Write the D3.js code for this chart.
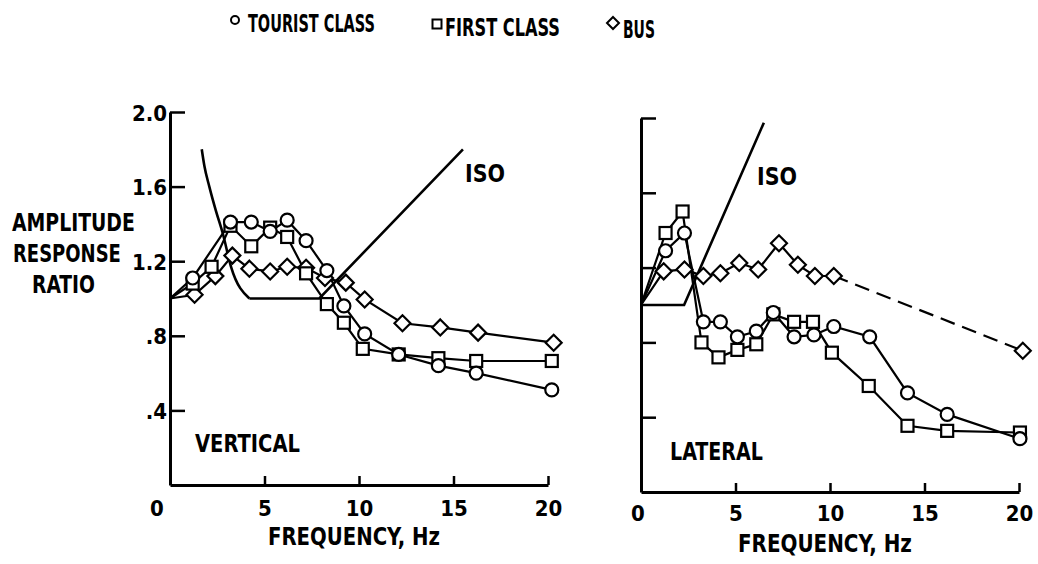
<!DOCTYPE html>
<html><head><meta charset="utf-8">
<script src="https://cdn.jsdelivr.net/npm/d3@7"></script>
<style>
body{margin:0;background:#fff}
text{font-family:"Liberation Sans Narrow","DejaVu Sans Condensed",sans-serif;font-weight:bold;fill:#000}
</style>
</head><body>
<svg id="c" width="1038" height="564"></svg>
<script>
// ---------- DATA ----------
const seriesNames = ["TOURIST CLASS", "FIRST CLASS", "BUS"];
const yTickValues = [0.4, 0.8, 1.2, 1.6, 2.0];
const yTickLabels = [".4", ".8", "1.2", "1.6", "2.0"];
const xTickValues = [5, 10, 15, 20];
const xTickLabels = ["5", "10", "15", "20"];

// Vertical panel
const vertTouristF = [0, 1.2, 3.2, 4.3, 5.3, 6.2, 7.2, 8.3, 9.2, 10.3, 12.1, 14.2, 16.2, 20.2];
const vertTouristV = [1.0, 1.11, 1.41, 1.41, 1.36, 1.42, 1.31, 1.15, 0.96, 0.81, 0.70, 0.64, 0.60, 0.51];
const vertFirstF = [0, 1.2, 2.2, 3.2, 4.3, 5.3, 6.2, 7.2, 8.3, 9.2, 10.2, 12.1, 14.2, 16.2, 20.2];
const vertFirstV = [1.0, 1.08, 1.17, 1.39, 1.28, 1.38, 1.33, 1.135, 0.97, 0.87, 0.73, 0.70, 0.68, 0.665, 0.665];
const vertBusF = [0, 1.3, 2.4, 3.3, 4.2, 5.3, 6.2, 7.2, 8.2, 9.3, 10.3, 12.3, 14.3, 16.3, 20.3];
const vertBusV = [1.0, 1.02, 1.12, 1.23, 1.16, 1.145, 1.17, 1.165, 1.11, 1.085, 0.995, 0.867, 0.845, 0.817, 0.763];
const vertIsoCurveF = [1.68, 1.82, 2.08, 2.43, 2.79, 3.23, 4.2];
const vertIsoCurveV = [1.80, 1.71, 1.60, 1.47, 1.35, 1.17, 1.0];
const vertIsoLineF = [4.2, 7.9, 15.5];
const vertIsoLineV = [1.0, 1.0, 1.8];

// Lateral panel
const latTouristF = [0, 1.3, 2.3, 3.3, 4.2, 5.1, 6.1, 7.0, 8.1, 9.15, 10.2, 12.1, 14.1, 16.2, 20.05];
const latTouristV = [1.0, 1.29, 1.385, 0.91, 0.91, 0.83, 0.86, 0.96, 0.83, 0.84, 0.885, 0.83, 0.53, 0.415, 0.285];
const latFirstF = [0, 1.3, 2.2, 3.2, 4.1, 5.1, 6.1, 7.0, 8.1, 9.1, 10.1, 12.05, 14.1, 16.2, 20.05];
const latFirstV = [1.0, 1.385, 1.50, 0.80, 0.72, 0.76, 0.79, 0.95, 0.91, 0.91, 0.745, 0.567, 0.354, 0.327, 0.318];
const latBusF = [0, 1.2, 2.3, 3.3, 4.2, 5.2, 6.2, 7.3, 8.3, 9.2, 10.2, 20.2];
const latBusV = [1.0, 1.18, 1.19, 1.155, 1.17, 1.225, 1.19, 1.33, 1.215, 1.155, 1.155, 0.755];
const latIsoF = [0, 2.28, 6.5];
const latIsoV = [1.0, 1.0, 1.975];

// ---------- DRAW ----------
const svg = d3.select("#c");
const zip = (f, v) => f.map((d, i) => [d, v[i]]);

// text squeezed horizontally with a transform so its real box matches the target width
function txt(x, y, s, size, width, anchor) {
  const t = svg.append("text").attr("x", 0).attr("y", 0).text(s)
    .style("font-size", size + "px").attr("text-anchor", anchor || "start");
  let k = 1;
  if (width) {
    const nat = t.node().getComputedTextLength();
    if (nat > 0) k = width / nat;
  }
  t.attr("transform", `translate(${x},${y}) scale(${k},1)`);
  return t;
}

function marker(g, type, cx, cy, s) {
  if (type === "circle") {
    g.append("circle").attr("cx", cx).attr("cy", cy).attr("r", s);
  } else if (type === "square") {
    g.append("rect").attr("x", cx - s).attr("y", cy - s).attr("width", 2 * s).attr("height", 2 * s);
  } else {
    g.append("path").attr("d", `M${cx},${cy - s}L${cx + s},${cy}L${cx},${cy + s}L${cx - s},${cy}Z`);
  }
}

function panel(opt) {
  const xs = d3.scaleLinear().domain([0, 20]).range([opt.x0, opt.x1]);
  const ys = d3.scaleLinear().domain([0, 2.0]).range([opt.y0, opt.y1]);
  const g = svg.append("g");

  // axes
  const ya = d3.axisLeft(ys).tickValues(yTickValues).tickSizeInner(-15).tickSizeOuter(0).tickPadding(5)
    .tickFormat((d, i) => opt.yLabels ? yTickLabels[i] : "");
  const yg = g.append("g").attr("transform", `translate(${opt.x0},0)`).call(ya);
  const xa = d3.axisBottom(xs).tickValues(xTickValues).tickSizeInner(-9).tickSizeOuter(0).tickPadding(0)
    .tickFormat((d, i) => xTickLabels[i]);
  const xg = g.append("g").attr("transform", `translate(0,${opt.y0})`).call(xa);
  [yg, xg].forEach(a => {
    a.attr("font-family", null).attr("font-size", null);
    a.select(".domain").attr("stroke", "#000").attr("stroke-width", 3);
    a.selectAll(".tick line").attr("stroke", "#000").attr("stroke-width", 2.5);
    a.selectAll(".tick text").style("font-size", "22px").attr("fill", "#000");
  });
  yg.selectAll(".tick text").attr("dy", null).attr("y", 8).attr("x", -3);
  xg.selectAll(".tick text").attr("dy", null).attr("y", opt.xLabelDy);
  txt(opt.zeroX, opt.zeroY, "0", 22, null, "middle");

  // ISO
  const line = d3.line().x(d => xs(d[0])).y(d => ys(d[1]));
  opt.iso.forEach(p => {
    g.append("path").attr("d", (p.curve ? line.curve(d3.curveMonotoneX) : line.curve(d3.curveLinear))(p.pts))
      .attr("fill", "none").attr("stroke", "#000").attr("stroke-width", 2.6);
  });
  line.curve(d3.curveLinear);

  // series
  opt.series.forEach(s => {
    const pts = s.pts;
    const solid = s.dashLast ? pts.slice(0, pts.length - 1) : pts;
    g.append("path").attr("d", line(solid)).attr("fill", "none").attr("stroke", "#000").attr("stroke-width", 2.2);
    if (s.dashLast) {
      g.append("path").attr("d", line(pts.slice(pts.length - 2))).attr("fill", "none")
        .attr("stroke", "#000").attr("stroke-width", 2.2).attr("stroke-dasharray", "15,8");
    }
  });
  opt.series.forEach(s => {
    const mg = g.append("g").attr("fill", "#fff").attr("stroke", "#000").attr("stroke-width", 2.2);
    s.pts.slice(1).forEach(d => marker(mg, s.type, xs(d[0]), ys(d[1]), s.size));
  });
}

panel({
  x0: 170, x1: 548, y0: 485, y1: 112, yLabels: true, xLabelDy: 31, zeroX: 157, zeroY: 516,
  iso: [{ curve: true, pts: zip(vertIsoCurveF, vertIsoCurveV) }, { curve: false, pts: zip(vertIsoLineF, vertIsoLineV) }],
  series: [
    { type: "diamond", size: 8, pts: zip(vertBusF, vertBusV) },
    { type: "square", size: 6, pts: zip(vertFirstF, vertFirstV) },
    { type: "circle", size: 6.5, pts: zip(vertTouristF, vertTouristV) }
  ]
});
panel({
  x0: 641, x1: 1019, y0: 492, y1: 118, yLabels: false, xLabelDy: 29, zeroX: 638, zeroY: 521,
  iso: [{ curve: false, pts: zip(latIsoF, latIsoV) }],
  series: [
    { type: "diamond", size: 8, pts: zip(latBusF, latBusV), dashLast: true },
    { type: "square", size: 6, pts: zip(latFirstF, latFirstV) },
    { type: "circle", size: 6.5, pts: zip(latTouristF, latTouristV) }
  ]
});

// texts
txt(12, 231, "AMPLITUDE", 24, 123);
txt(13, 262, "RESPONSE", 24, 108);
txt(32, 293, "RATIO", 24, 63);
txt(268, 545, "FREQUENCY, Hz", 24, 172);
txt(738, 552, "FREQUENCY, Hz", 24, 174);
txt(195, 452, "VERTICAL", 24, 105);
txt(670, 460, "LATERAL", 24, 93);
txt(465, 182, "ISO", 24, 40);
txt(757, 185, "ISO", 24, 40);

// legend
const lg = svg.append("g").attr("fill", "#fff").attr("stroke", "#000").attr("stroke-width", 2);
marker(lg, "circle", 235, 20, 4);
marker(lg, "square", 437, 24, 4.5);
marker(lg, "diamond", 613, 23, 6);
txt(248, 32, seriesNames[0], 24, 127);
txt(445, 36, seriesNames[1], 24, 115);
txt(623, 38, seriesNames[2], 24, 32);
</script>
</body></html>
